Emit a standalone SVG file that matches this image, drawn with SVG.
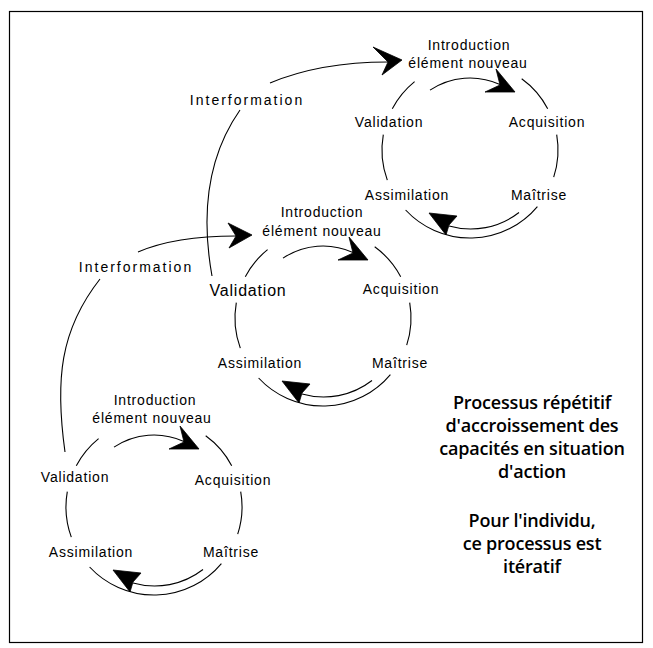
<svg xmlns="http://www.w3.org/2000/svg" xmlns:xlink="http://www.w3.org/1999/xlink" width="653" height="648" viewBox="0 0 653 648">
<style>
.ln{fill:none;stroke:#000;stroke-width:1.1}
.ah{fill:#000;stroke:#000;stroke-width:0.8;stroke-linejoin:miter}
.lbl{font-family:"Liberation Sans",Arial,sans-serif;font-size:14px;letter-spacing:0.8px;fill:#000;text-anchor:middle}
.big{font-size:16px}
.inf{letter-spacing:2px}
.note{font-family:"Open Sans","Noto Sans",sans-serif;font-weight:600;font-size:18px;fill:#000;text-anchor:middle;letter-spacing:-0.2px}
</style>
<defs>
<g id="cyc">
<path class="ln" d="M-55.4,-68.4 A88,88 0 0 0 -77.7,-41.3"/>
<path class="ln" d="M51.7,-71.2 A88,88 0 0 1 77.7,-41.3"/>
<path class="ln" d="M-86.7,-15.3 A88,88 0 0 0 -82.7,30.1"/>
<path class="ln" d="M86.7,-15.3 A88,88 0 0 1 83.7,27.2"/>
<path class="ln" d="M67.4,56.6 A88,88 0 0 1 -64.4,60"/>
<path class="ln" d="M-40,-59.9 A72,72 0 0 1 30,-65.5"/>
<polygon class="ah" points="26,-81 45,-58 15,-58 30,-65"/>
<path class="ln" d="M49,62.5 A79,79 0 0 1 -21,76"/>
<polygon class="ah" points="-13,66 -41,63 -24,85 -21,75"/>
</g>
</defs>
<rect x="9.5" y="11.5" width="633" height="631" fill="none" stroke="#000" stroke-width="1.2"/>
<g id="cycle-top" transform="translate(470,150)">
<use xlink:href="#cyc" href="#cyc"/>
<text class="lbl" x="-1" y="-100">Introduction</text>
<text class="lbl" x="-2" y="-82">élément nouveau</text>
<text class="lbl" x="-81" y="-23">Validation</text>
<text class="lbl" x="77" y="-23">Acquisition</text>
<text class="lbl" x="-63" y="50">Assimilation</text>
<text class="lbl" x="69" y="50">Maîtrise</text>
</g>
<g id="cycle-middle" transform="translate(323,318)">
<use xlink:href="#cyc" href="#cyc"/>
<text class="lbl" x="-1" y="-101">Introduction</text>
<text class="lbl" x="-1" y="-82">élément nouveau</text>
<text class="lbl big" x="-75" y="-22">Validation</text>
<text class="lbl" x="78" y="-24">Acquisition</text>
<text class="lbl" x="-63" y="50">Assimilation</text>
<text class="lbl" x="77" y="50">Maîtrise</text>
</g>
<g id="cycle-bottom" transform="translate(154,507)">
<use xlink:href="#cyc" href="#cyc"/>
<text class="lbl" x="1" y="-102">Introduction</text>
<text class="lbl" x="-2" y="-84">élément nouveau</text>
<text class="lbl" x="-79" y="-25">Validation</text>
<text class="lbl" x="79" y="-22">Acquisition</text>
<text class="lbl" x="-63" y="50">Assimilation</text>
<text class="lbl" x="77" y="50">Maîtrise</text>
</g>
<g id="connectors">
<path class="ln" d="M212,276 C202,220 205,160 240,110"/>
<path class="ln" d="M270,83 Q320,62 388,62"/>
<polygon class="ah" points="373,47 402,60 382,75 388,62"/>
<path class="ln" d="M65,452 C55,380 60,330 100,279"/>
<path class="ln" d="M138,252 Q175,236 236,236"/>
<polygon class="ah" points="228,223 252,235 229,248 236,236"/>
</g>
<g id="interformation-labels">
<text class="lbl inf" x="247" y="105">Interformation</text>
<text class="lbl inf" x="136" y="272">Interformation</text>
</g>
<g id="note">
<text class="note" x="532" y="409">Processus répétitif</text>
<text class="note" x="532" y="432">d'accroissement des</text>
<text class="note" x="532" y="455">capacités en situation</text>
<text class="note" x="532" y="478">d'action</text>
<text class="note" x="532" y="527">Pour l'individu,</text>
<text class="note" x="532" y="550">ce processus est</text>
<text class="note" x="532" y="573">itératif</text>
</g>
</svg>
